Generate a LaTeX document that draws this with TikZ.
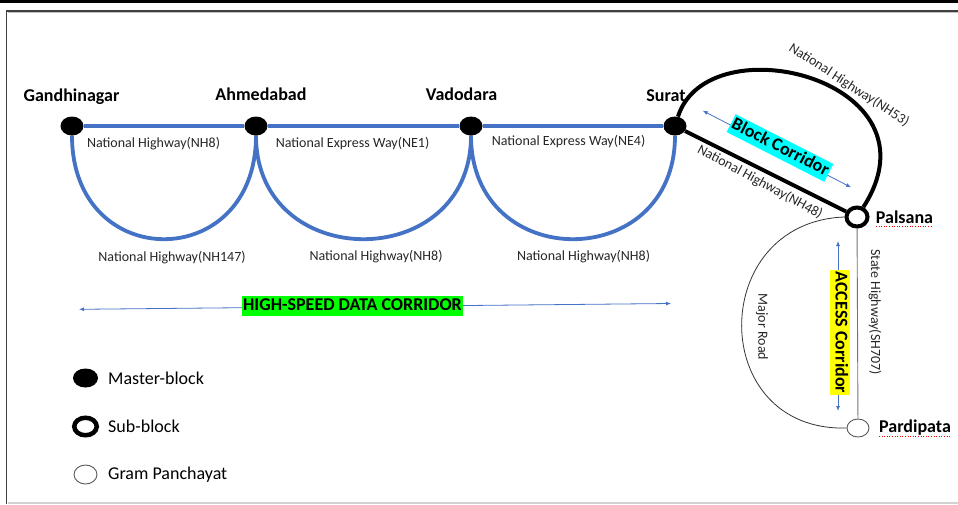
\documentclass[tikz,border=0pt]{standalone}
\usepackage{fontspec}
\setmainfont{Carlito}
\usetikzlibrary{arrows.meta,shapes.geometric,backgrounds}
\definecolor{hblue}{HTML}{4472C4}
\definecolor{txt}{HTML}{262626}
\definecolor{tagcyan}{HTML}{00FFFF}
\definecolor{taggreen}{HTML}{00FF00}
\definecolor{tagyellow}{HTML}{FFFF00}
\begin{document}
\begin{tikzpicture}[x=1pt,y=-1pt,
  master/.style={ellipse,fill=black,inner sep=0pt,minimum width=23pt,minimum height=19pt},
  subblk/.style={ellipse,draw=black,fill=white,line width=4pt,inner sep=0pt,minimum width=21pt,minimum height=19pt},
  gp/.style={ellipse,draw=black!65,fill=white,line width=0.9pt,inner sep=0pt,minimum width=22pt,minimum height=18pt},
  city/.style={anchor=base,font=\fontsize{18}{20}\selectfont\bfseries,text=black,inner sep=0pt},
  road/.style={font=\fontsize{14}{16}\selectfont,text=txt,inner sep=0pt},
  legtxt/.style={anchor=base west,font=\fontsize{18}{20}\selectfont,text=black,inner sep=0pt},
  hw/.style={draw=hblue,line width=3.8pt},
  nh/.style={draw=black,line width=4pt},
  corr/.style={draw=hblue,line width=0.8pt,>={Latex[length=5pt,width=4pt]},<->},
  tag/.style={font=\fontsize{18}{20}\selectfont\bfseries,text=black,inner xsep=1.5pt,inner ysep=1pt,text height=13.5pt,text depth=4.5pt},
  spell/.style={draw=red,line width=0.6pt,dotted}
]
\useasboundingbox (0,0) rectangle (958,504);
% frame
\draw[line width=2.5pt] (0,1.5) -- (958,1.5);
\draw[draw=black!75,line width=1.3pt] (6.8,504) -- (6.8,11) -- (958,11);
\draw[draw=black!25,line width=1pt] (7.5,12.6) -- (958,12.6);
\draw[draw=black!18,line width=1.2pt] (7.5,503) -- (958,503);

% nodes
\node[master] (g) at (72,126) {};
\node[master] (a) at (256,126) {};
\node[master] (v) at (471,126) {};
\node[master] (s) at (675,126) {};
\node[subblk] (p) at (857,217) {};
\node[gp] (q) at (858,428) {};

% connectors
\begin{pgfonlayer}{background}
\draw[hw] (g) -- (a) (a) -- (v) (v) -- (s);
\draw[hw] (g.south) .. controls +(0,138) and +(0,138) .. (a.south);
\draw[hw] (a.south) .. controls +(0,138) and +(0,138) .. (v.south);
\draw[hw] (v.south) .. controls +(0,138) and +(0,138) .. (s.south);
\draw[nh] (s) -- (p);
\draw[nh] (s) .. controls (708,22) and (945,80) .. (p);
\draw[draw=black!55,line width=0.9pt] (p) -- (q);
\draw[draw=black!80,line width=0.8pt] (p.west) .. controls (707,222) and (707,432) .. (q.west);
\end{pgfonlayer}

% city labels
\node[city] (gl) at (71.5,101.5) {Gandhinagar};
\node[city] (al) at (261,100) {Ahmedabad};
\node[city] (vl) at (461.5,100.5) {Vadodara};
\node[city] (sl) at (666,101.5) {Surat};
\node[city] (pl) at (904.5,223.3) {Palsana};
\node[city] (ql) at (915,432.7) {Pardipata};
\draw[spell] (876,226.5) -- (933,226.5);
\draw[spell] (879,436) -- (951,436);

% road labels
\node[road,anchor=base] (r1) at (153.5,147) {National Highway(NH8)};
\node[road,anchor=base] (r2) at (352.5,147) {National Express Way(NE1)};
\node[road,anchor=base] (r3) at (568.5,145.5) {National Express Way(NE4)};
\node[road,anchor=base] (r4) at (172,261.5) {National Highway(NH147)};
\node[road,anchor=base] (r5) at (376,260) {National Highway(NH8)};
\node[road,anchor=base] (r6) at (583.5,260) {National Highway(NH8)};
\node[road,rotate=-33] (r7) at (849,85) {National Highway(NH53)};
\node[road,rotate=-28.5] (r8) at (760,182) {National Highway(NH48)};
\node[road,rotate=-90] (r9) at (875,312) {State Highway(SH707)};
\node[road,rotate=-90] (r10) at (762,327) {Major Road};

% corridors
\coordinate (b1) at (702.7,110.7);
\coordinate (b2) at (851,187.3);
\draw[corr] (b1) -- (b2);
\node[tag,fill=tagcyan,rotate=-27] (bc) at (780,148) {Block Corridor};
\coordinate (h1) at (79,309.3);
\coordinate (h2) at (671,303.5);
\draw[corr] (h1) -- (h2);
\node[tag,fill=taggreen] (hs) at (352.5,305.5) {HIGH-SPEED DATA CORRIDOR};
\coordinate (c1) at (838,241);
\coordinate (c2) at (838,411);
\draw[corr] (c1) -- (c2);
\node[tag,fill=tagyellow,rotate=-90] (ac) at (840,332.5) {ACCESS Corridor};

% legend
\node[master,minimum width=25pt] (lm) at (85.5,378) {};
\node[subblk,minimum width=22.5pt,minimum height=17.5pt,line width=4.5pt] (ls) at (85.5,426.5) {};
\node[gp,minimum width=23pt,minimum height=19pt] (lg) at (85.5,474.5) {};
\node[legtxt] (lmt) at (108,384) {Master-block};
\node[legtxt] (lst) at (108,432.5) {Sub-block};
\node[legtxt] (lgt) at (108,479.3) {Gram Panchayat};
\end{tikzpicture}
\end{document}
